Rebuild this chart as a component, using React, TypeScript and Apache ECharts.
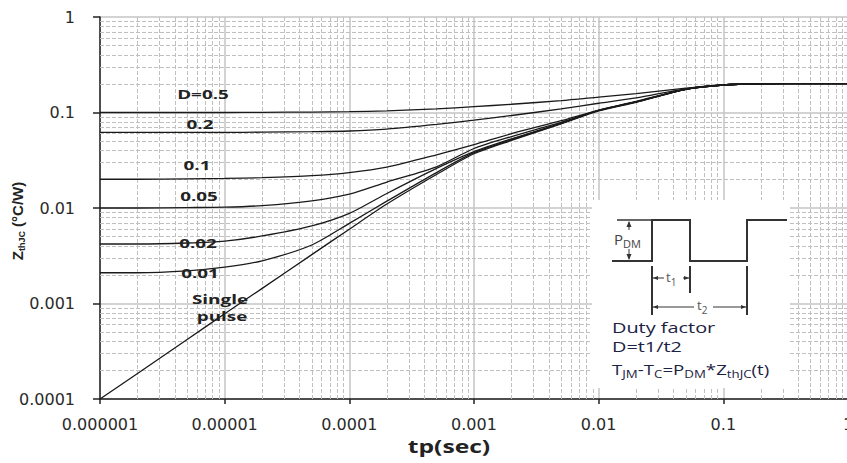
import React, { useEffect, useRef } from 'react';
import * as echarts from 'echarts';

// ---- data ----
const times = [1e-6, 2e-6, 5e-6, 1e-5, 2e-5, 5e-5, 1e-4, 2e-4, 5e-4, 1e-3, 2e-3, 5e-3, 1e-2, 2e-2, 5e-2, 1e-1, 2e-1, 5e-1, 1];

const zD05 = [0.100, 0.100, 0.100, 0.100, 0.1005, 0.101, 0.102, 0.104, 0.109, 0.115, 0.122, 0.133, 0.145, 0.158, 0.180, 0.195, 0.200, 0.201, 0.201];
const zD02 = [0.062, 0.062, 0.062, 0.062, 0.0622, 0.063, 0.064, 0.067, 0.075, 0.083, 0.093, 0.109, 0.125, 0.142, 0.177, 0.194, 0.200, 0.201, 0.201];
const zD01 = [0.020, 0.020, 0.0202, 0.0204, 0.0208, 0.0218, 0.0235, 0.0268, 0.036, 0.046, 0.060, 0.082, 0.106, 0.131, 0.175, 0.194, 0.200, 0.201, 0.201];
const zD005 = [0.0100, 0.0100, 0.0101, 0.0102, 0.0106, 0.0119, 0.0140, 0.0187, 0.027, 0.042, 0.056, 0.079, 0.105, 0.130, 0.175, 0.194, 0.200, 0.201, 0.201];
const zD002 = [0.0042, 0.0042, 0.0043, 0.0045, 0.0051, 0.0065, 0.0088, 0.0142, 0.026, 0.039, 0.053, 0.077, 0.105, 0.129, 0.175, 0.194, 0.200, 0.201, 0.201];
const zD001 = [0.0021, 0.0021, 0.0022, 0.0024, 0.0028, 0.0041, 0.0069, 0.0118, 0.0235, 0.038, 0.052, 0.077, 0.105, 0.129, 0.175, 0.194, 0.200, 0.201, 0.201];
const zSingle = [0.0001, 0.000185, 0.00042, 0.00078, 0.00144, 0.00325, 0.0060, 0.0110, 0.0224, 0.037, 0.051, 0.076, 0.104, 0.128, 0.175, 0.194, 0.200, 0.201, 0.201];

const seriesNames = ['D=0.5', '0.2', '0.1', '0.05', '0.02', '0.01', 'Single pulse'];
const seriesValues = [zD05, zD02, zD01, zD005, zD002, zD001, zSingle];

const xTickLabels = ['0.000001', '0.00001', '0.0001', '0.001', '0.01', '0.1', '1'];
const yTickLabels = ['0.0001', '0.001', '0.01', '0.1', '1'];
const xDecades = [-6, -5, -4, -3, -2, -1];
const yDecades = [-4, -3, -2, -1];
const minorSteps = [2, 3, 4, 5, 6, 7, 8, 9];
const X_MIN = 1e-6, X_MAX = 1, Y_MIN = 1e-4, Y_MAX = 1;

const curveLabels = [
  { text: 'D=0.5', x: 203, y: 94 },
  { text: '0.2', x: 200, y: 124 },
  { text: '0.1', x: 197, y: 165 },
  { text: '0.05', x: 199, y: 196 },
  { text: '0.02', x: 198, y: 243 },
  { text: '0.01', x: 200, y: 273 },
  { text: 'Single', x: 220, y: 299 },
  { text: 'pulse', x: 222, y: 316 },
];

const INK = '#222';
const NAVY = '#1c2244';

function buildOption() {
  const minorLines: any[] = [];
  xDecades.forEach((d) => minorSteps.forEach((m) => {
    const v = m * Math.pow(10, d);
    minorLines.push([{ coord: [v, Y_MIN] }, { coord: [v, Y_MAX] }]);
  }));
  yDecades.forEach((d) => minorSteps.forEach((m) => {
    const v = m * Math.pow(10, d);
    minorLines.push([{ coord: [X_MIN, v] }, { coord: [X_MAX, v] }]);
  }));

  const curveSeries = seriesValues.map((vals, i) => ({
    name: seriesNames[i],
    type: 'line',
    data: times.map((t, k) => [t, vals[k]]),
    showSymbol: false,
    symbol: 'none',
    smooth: 0.25,
    z: 10,
    silent: true,
    lineStyle: { color: '#1a1a1a', width: 1.3 },
  }));

  const gridSeries = {
    name: 'minor-grid',
    type: 'line',
    data: [[X_MIN, Y_MIN]],
    showSymbol: false,
    symbol: 'none',
    lineStyle: { opacity: 0 },
    silent: true,
    z: 1,
    markLine: {
      silent: true,
      symbol: ['none', 'none'],
      label: { show: false },
      z: 1,
      lineStyle: { type: [4, 2], color: '#c0c0c0', width: 1 },
      emphasis: { disabled: true },
      data: minorLines,
    },
  };

  const labelTexts = curveLabels.map((l) => ({
    type: 'text',
    x: l.x,
    y: l.y,
    scaleX: 1.45,
    z: 50,
    style: {
      text: l.text,
      fontFamily: 'Open Sans',
      fontWeight: 'bold',
      fontSize: 13,
      fill: INK,
      align: 'center',
      verticalAlign: 'middle',
      textAlign: 'center',
      textVerticalAlign: 'middle',
    },
  }));

  const subRich = (main: number, sub: number, color: string, bold = false) => ({
    m: { fontFamily: 'Open Sans', fontSize: main, lineHeight: 20, fill: color, color, fontWeight: bold ? 'bold' : 'normal', verticalAlign: 'middle' },
    s: { fontFamily: 'Open Sans', fontSize: sub, lineHeight: 11, fill: color, color, fontWeight: bold ? 'bold' : 'normal', verticalAlign: 'bottom' },
  });

  const leftText = (text: string, x: number, y: number, rich: any, scaleX = 1.42) => ({
    type: 'text',
    x,
    y,
    scaleX,
    z: 60,
    style: {
      text,
      rich,
      align: 'left',
      verticalAlign: 'middle',
      textAlign: 'left',
      textVerticalAlign: 'middle',
    },
  });

  const stroke = { stroke: '#333', lineWidth: 1 };
  const thick = { stroke: '#333', lineWidth: 2 };

  const inset = [
    { type: 'rect', z: 55, shape: { x: 592, y: 200, width: 198, height: 188 }, style: { fill: '#fff' } },
    {
      type: 'polyline', z: 60,
      shape: { points: [[612, 261], [652, 261], [652, 220], [690, 220], [690, 261], [747, 261], [747, 220], [787, 220]] },
      style: { ...thick, fill: null },
    },
    { type: 'line', z: 60, shape: { x1: 617, y1: 220, x2: 652, y2: 220 }, style: { stroke: '#333', lineWidth: 1.5 } },
    // P_DM arrow
    { type: 'line', z: 60, shape: { x1: 629, y1: 222, x2: 629, y2: 230 }, style: stroke },
    { type: 'line', z: 60, shape: { x1: 629, y1: 249, x2: 629, y2: 259 }, style: stroke },
    { type: 'polygon', z: 60, shape: { points: [[629, 221], [626.5, 227], [631.5, 227]] }, style: { fill: '#333' } },
    { type: 'polygon', z: 60, shape: { points: [[629, 260], [626.5, 254], [631.5, 254]] }, style: { fill: '#333' } },
    // extension lines
    { type: 'line', z: 60, shape: { x1: 652, y1: 266, x2: 652, y2: 315 }, style: thick },
    { type: 'line', z: 60, shape: { x1: 690, y1: 266, x2: 690, y2: 293 }, style: thick },
    { type: 'line', z: 60, shape: { x1: 747, y1: 266, x2: 747, y2: 315 }, style: thick },
    // t1 dimension
    { type: 'line', z: 60, shape: { x1: 653, y1: 278, x2: 664, y2: 278 }, style: stroke },
    { type: 'line', z: 60, shape: { x1: 683, y1: 278, x2: 689, y2: 278 }, style: stroke },
    { type: 'polygon', z: 60, shape: { points: [[653, 278], [658, 276], [658, 280]] }, style: { fill: '#333' } },
    { type: 'polygon', z: 60, shape: { points: [[689, 278], [684, 276], [684, 280]] }, style: { fill: '#333' } },
    // t2 dimension
    { type: 'line', z: 60, shape: { x1: 653, y1: 307, x2: 694, y2: 307 }, style: stroke },
    { type: 'line', z: 60, shape: { x1: 713, y1: 307, x2: 746, y2: 307 }, style: stroke },
    { type: 'polygon', z: 60, shape: { points: [[653, 307], [658, 305], [658, 309]] }, style: { fill: '#333' } },
    { type: 'polygon', z: 60, shape: { points: [[746, 307], [741, 305], [741, 309]] }, style: { fill: '#333' } },
    leftText('{m|P}{s|DM}', 614, 239, subRich(15, 11, '#444'), 1.0),
    leftText('{m|t}{s|1}', 666, 277, subRich(13, 10, '#555'), 1.0),
    leftText('{m|t}{s|2}', 697, 305, subRich(13, 10, '#555'), 1.0),
    leftText('{m|Duty factor}', 612, 328, subRich(14, 10, NAVY)),
    leftText('{m|D=t1/t2}', 612, 347, subRich(14, 10, NAVY)),
    leftText('{m|T}{s|JM}{m|-T}{s|C}{m|=P}{s|DM}{m|*Z}{s|thJC}{m|(t)}', 612, 369, subRich(14, 10, NAVY), 1.33),
  ];

  const yTitle = {
    type: 'text',
    x: 17,
    y: 221,
    rotation: Math.PI / 2,
    z: 60,
    style: {
      text: '{m|Z}{s|thJC}{m| (°C/W)}',
      rich: {
        m: { fontFamily: 'Liberation Sans', fontWeight: 'bold', fontSize: 15, lineHeight: 19, fill: INK, color: INK, verticalAlign: 'middle' },
        s: { fontFamily: 'Liberation Sans', fontWeight: 'bold', fontSize: 9, lineHeight: 9, fill: INK, color: INK, verticalAlign: 'bottom' },
      },
      align: 'center',
      verticalAlign: 'middle',
      textAlign: 'center',
      textVerticalAlign: 'middle',
    },
  };

  const xTitle = {
    type: 'text',
    x: 449,
    y: 446,
    scaleX: 1.45,
    z: 60,
    style: {
      text: 'tp(sec)',
      fontFamily: 'Open Sans',
      fontWeight: 'bold',
      fontSize: 17,
      fill: INK,
      align: 'center',
      verticalAlign: 'middle',
      textAlign: 'center',
      textVerticalAlign: 'middle',
    },
  };

  return {
    animation: false,
    backgroundColor: '#fff',
    grid: { left: 100, top: 17, width: 748, height: 382, containLabel: false, outerBoundsMode: 'none' },
    xAxis: {
      type: 'log',
      logBase: 10,
      min: X_MIN,
      max: X_MAX,
      axisLine: { show: true, onZero: false, lineStyle: { color: '#222', width: 1.5 } },
      axisTick: { show: true, inside: false, length: 5, lineStyle: { color: '#222', width: 1.5 } },
      axisLabel: {
        margin: 17,
        fontFamily: 'DejaVu Sans',
        fontSize: 16,
        color: '#2a2a2a',
        formatter: (v: number) => xTickLabels[Math.round(Math.log10(v)) + 6] ?? '',
      },
      splitLine: { show: true, lineStyle: { color: '#c4c4c4', width: 1.5 } },
      minorTick: { show: false },
      minorSplitLine: { show: false },
    },
    yAxis: {
      type: 'log',
      logBase: 10,
      min: Y_MIN,
      max: Y_MAX,
      axisLine: { show: true, onZero: false, lineStyle: { color: '#222', width: 1.5 } },
      axisTick: { show: true, inside: false, length: 7, lineStyle: { color: '#222', width: 1.5 } },
      axisLabel: {
        margin: 25,
        fontFamily: 'DejaVu Sans',
        fontSize: 16,
        color: '#2a2a2a',
        formatter: (v: number) => yTickLabels[Math.round(Math.log10(v)) + 4] ?? '',
      },
      splitLine: { show: true, lineStyle: { color: '#c4c4c4', width: 1.5 } },
    },
    series: [gridSeries, ...curveSeries],
    graphic: { elements: [...labelTexts, ...inset, yTitle, xTitle] },
  };
}

export default function App() {
  const ref = useRef<HTMLDivElement>(null);
  useEffect(() => {
    const chart = echarts.init(ref.current as HTMLDivElement, null, { renderer: 'svg' });
    chart.setOption(buildOption() as any);
    return () => chart.dispose();
  }, []);
  return (
    <div
      ref={ref}
      style={{ position: 'fixed', left: 0, top: 0, width: 847, height: 463, background: '#fff' }}
    />
  );
}
